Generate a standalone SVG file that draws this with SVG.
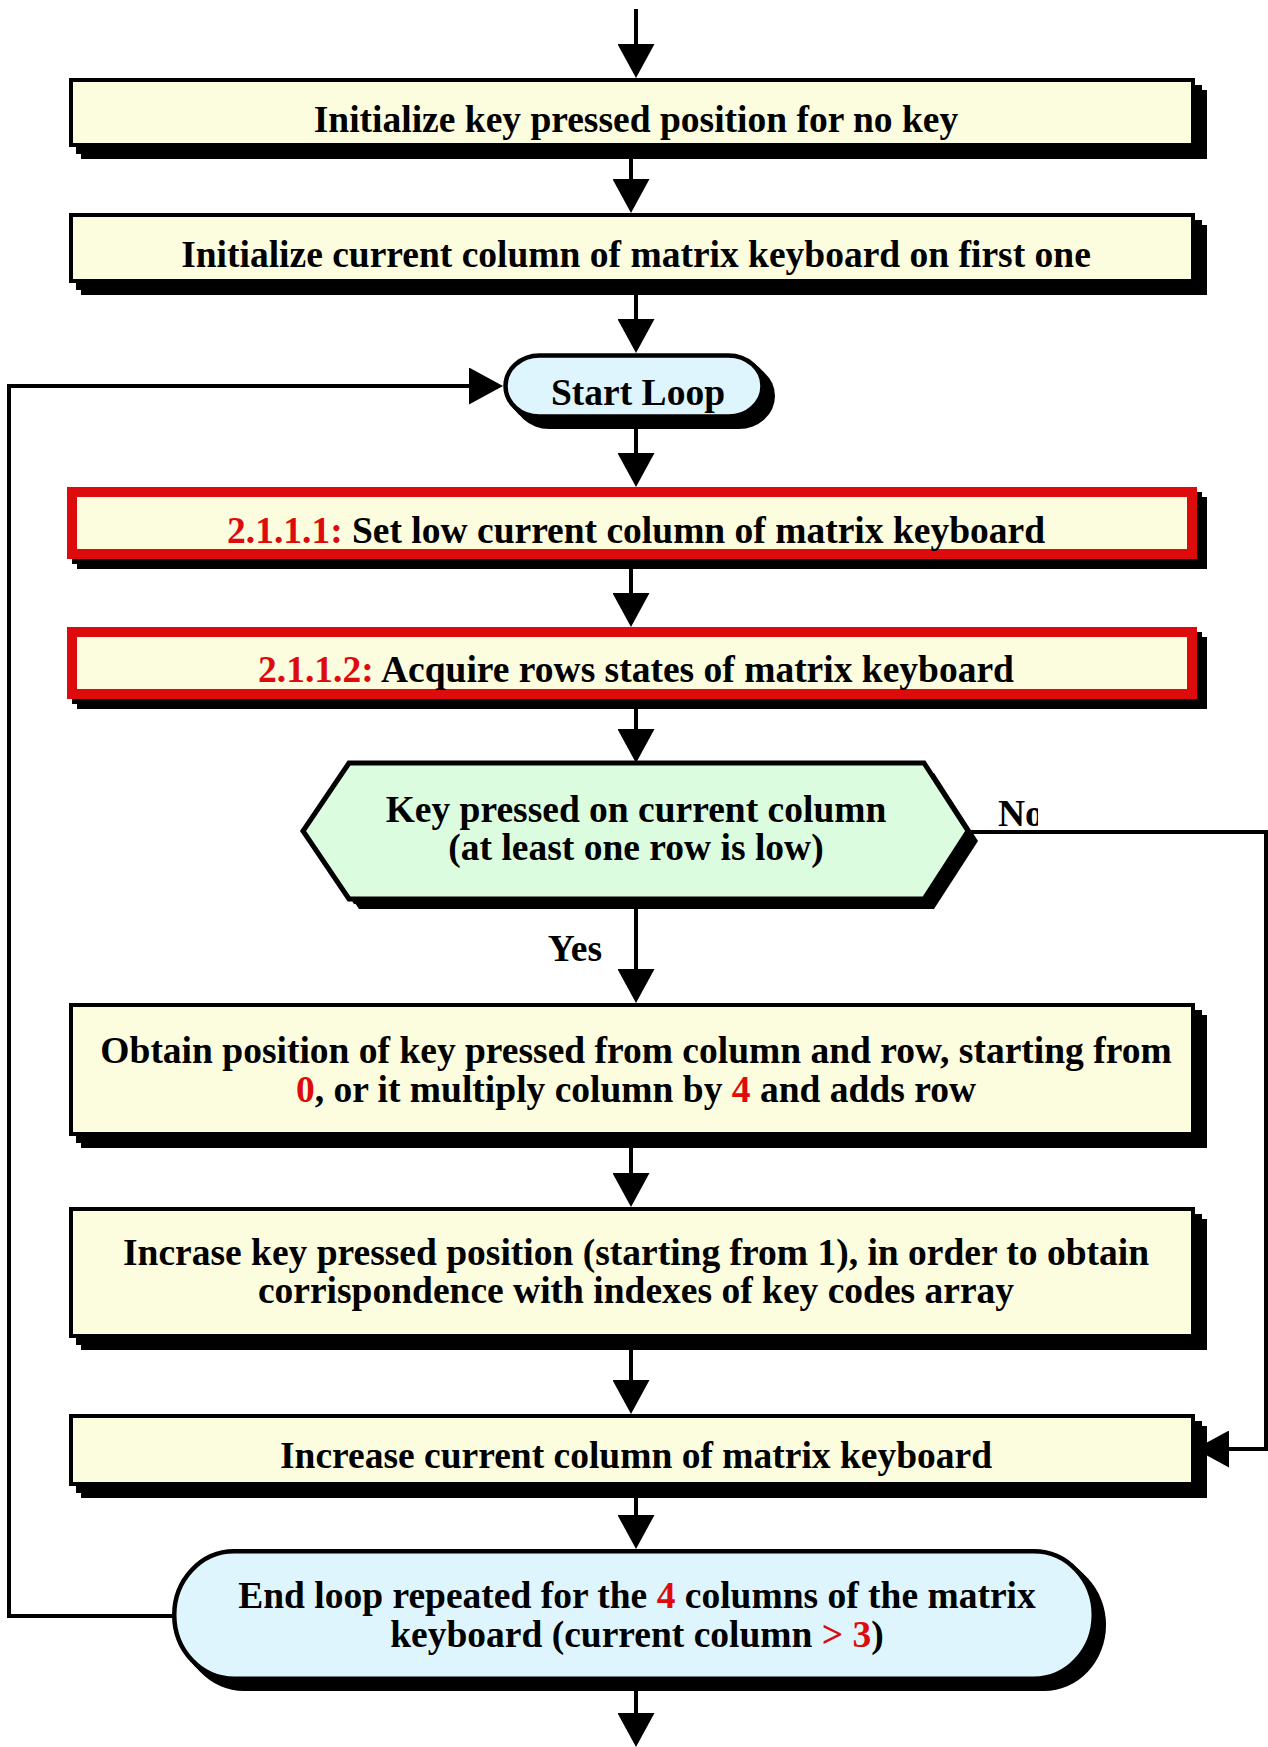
<svg xmlns="http://www.w3.org/2000/svg" width="1268" height="1747" viewBox="0 0 1268 1747">
  <style>
    text { font-family: "Liberation Serif", "Times New Roman", serif; font-weight: bold; font-size: 37.5px; fill: #000; }
    .c { text-anchor: middle; }
    .red { fill: #dd0b0b; }
    .wire { fill: none; stroke: #000; stroke-width: 4; }
    .shadow { fill: #000; stroke: none; }
    .proc { fill: #fcfcdf; stroke: #000; stroke-width: 4; }
    .hot { fill: #fcfcdf; stroke: #dd0b0b; stroke-width: 10; }
    .term { fill: #def5fd; stroke: #000; stroke-width: 4.5; }
    .dec { fill: #dcfce0; stroke: #000; stroke-width: 5; stroke-linejoin: miter; }
  </style>
  <defs>
    <marker id="arrow" markerUnits="userSpaceOnUse" markerWidth="34" markerHeight="37" refX="24" refY="18.5" orient="auto">
      <path d="M0,0 L34,18.5 L0,37 Z" fill="#000"/>
    </marker>
    <clipPath id="noClip">
      <rect x="980" y="780" width="58" height="60"/>
    </clipPath>
  </defs>
  <rect width="1268" height="1747" fill="#fff"/>

  <!-- connectors -->
  <g id="connectors">
    <line class="wire" x1="636" y1="9" x2="636" y2="68" marker-end="url(#arrow)"/>
    <line class="wire" x1="631" y1="150" x2="631" y2="203" marker-end="url(#arrow)"/>
    <line class="wire" x1="636" y1="285" x2="636" y2="343" marker-end="url(#arrow)"/>
    <line class="wire" x1="636" y1="422" x2="636" y2="477" marker-end="url(#arrow)"/>
    <line class="wire" x1="631" y1="562" x2="631" y2="617" marker-end="url(#arrow)"/>
    <line class="wire" x1="636" y1="702" x2="636" y2="753" marker-end="url(#arrow)"/>
    <line class="wire" x1="636" y1="900" x2="636" y2="993" marker-end="url(#arrow)"/>
    <line class="wire" x1="631" y1="1140" x2="631" y2="1197" marker-end="url(#arrow)"/>
    <line class="wire" x1="631" y1="1340" x2="631" y2="1404" marker-end="url(#arrow)"/>
    <line class="wire" x1="636" y1="1488" x2="636" y2="1539" marker-end="url(#arrow)"/>
    <line class="wire" x1="636" y1="1683" x2="636" y2="1737" marker-end="url(#arrow)"/>
    <!-- loop back from end of loop to start -->
    <polyline class="wire" points="174,1616 9,1616 9,386 493,386" marker-end="url(#arrow)"/>
    <!-- "No" branch to column increment -->
    <polyline class="wire" points="968,832 1266,832 1266,1449 1205,1449" marker-end="url(#arrow)"/>
    <text x="602" y="961" text-anchor="end">Yes</text>
    <text x="998" y="826" clip-path="url(#noClip)">No</text>
  </g>

  <!-- init key position -->
  <g id="init-key">
    <rect class="shadow" x="81" y="90" width="1126" height="69"/>
    <rect class="shadow" x="76" y="85" width="1126" height="69"/>
    <rect class="proc" x="71" y="80" width="1122" height="65"/>
    <text class="c" x="636" y="132">Initialize key pressed position for no key</text>
  </g>

  <!-- init column -->
  <g id="init-column">
    <rect class="shadow" x="81" y="225" width="1126" height="70"/>
    <rect class="shadow" x="76" y="220" width="1126" height="70"/>
    <rect class="proc" x="71" y="215" width="1122" height="66"/>
    <text class="c" x="636" y="267">Initialize current column of matrix keyboard on first one</text>
  </g>

  <!-- start loop -->
  <g id="start-loop">
    <rect class="shadow" x="513" y="363" width="262" height="66" rx="36" ry="33"/>
    <rect class="shadow" x="508" y="358" width="262" height="66" rx="36" ry="33"/>
    <rect class="term" x="505.5" y="355.5" width="257" height="61" rx="34" ry="30.5"/>
    <text class="c" x="638" y="405">Start Loop</text>
  </g>

  <!-- 2.1.1.1 -->
  <g id="step-2111">
    <rect class="shadow" x="77" y="497" width="1130" height="72"/>
    <rect class="shadow" x="72" y="492" width="1130" height="72"/>
    <rect class="hot" x="72" y="492" width="1120" height="62"/>
    <text class="c" x="636" y="543"><tspan class="red">2.1.1.1:</tspan> Set low current column of matrix keyboard</text>
  </g>

  <!-- 2.1.1.2 -->
  <g id="step-2112">
    <rect class="shadow" x="77" y="637" width="1130" height="72"/>
    <rect class="shadow" x="72" y="632" width="1130" height="72"/>
    <rect class="hot" x="72" y="632" width="1120" height="62"/>
    <text class="c" x="636" y="682"><tspan class="red">2.1.1.2:</tspan> Acquire rows states of matrix keyboard</text>
  </g>

  <!-- decision -->
  <g id="key-pressed">
    <polygon class="shadow" transform="translate(10,10)" points="349,763 924,763 968,831 924,899 349,899 303,831"/>
    <polygon class="shadow" transform="translate(5,5)" points="349,763 924,763 968,831 924,899 349,899 303,831"/>
    <polygon class="dec" points="349,763 924,763 968,831 924,899 349,899 303,831"/>
    <text class="c" x="636" y="822">Key pressed on current column</text>
    <text class="c" x="636" y="860">(at least one row is low)</text>
  </g>

  <!-- obtain position -->
  <g id="obtain-position">
    <rect class="shadow" x="81" y="1015" width="1126" height="133"/>
    <rect class="shadow" x="76" y="1010" width="1126" height="133"/>
    <rect class="proc" x="71" y="1005" width="1122" height="129"/>
    <text class="c" x="636" y="1063">Obtain position of key pressed from column and row, starting from</text>
    <text class="c" x="636" y="1102"><tspan class="red">0</tspan>, or it multiply column by <tspan class="red">4</tspan> and adds row</text>
  </g>

  <!-- increase position -->
  <g id="increase-position">
    <rect class="shadow" x="81" y="1219" width="1126" height="131"/>
    <rect class="shadow" x="76" y="1214" width="1126" height="131"/>
    <rect class="proc" x="71" y="1209" width="1122" height="127"/>
    <text class="c" x="636" y="1265">Incrase key pressed position (starting from 1), in order to obtain</text>
    <text class="c" x="636" y="1303">corrispondence with indexes of key codes array</text>
  </g>

  <!-- increase column -->
  <g id="increase-column">
    <rect class="shadow" x="81" y="1426" width="1126" height="72"/>
    <rect class="shadow" x="76" y="1421" width="1126" height="72"/>
    <rect class="proc" x="71" y="1416" width="1122" height="68"/>
    <text class="c" x="636" y="1468">Increase current column of matrix keyboard</text>
  </g>

  <!-- end loop -->
  <g id="end-loop">
    <rect class="shadow" x="182" y="1559" width="924" height="132" rx="62" ry="66"/>
    <rect class="shadow" x="177" y="1554" width="924" height="132" rx="62" ry="66"/>
    <rect class="term" x="174.25" y="1551.25" width="919.5" height="127.5" rx="60" ry="63.75"/>
    <text class="c" x="637" y="1608">End loop repeated for the <tspan class="red">4</tspan> columns of the matrix</text>
    <text class="c" x="637" y="1647">keyboard (current column <tspan class="red">&gt; 3</tspan>)</text>
  </g>
</svg>
